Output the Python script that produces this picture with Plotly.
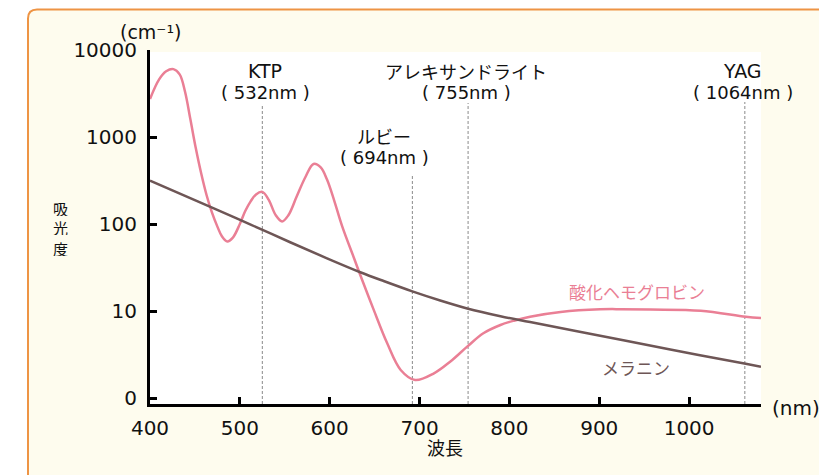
import plotly.graph_objects as go

# ---- data ----
hb_nm = [400, 410, 418, 426, 433, 439, 445, 451, 457, 463, 469, 475, 480, 486, 492, 500,
         506, 512, 518, 525, 532, 540, 547, 554, 563, 573, 582, 590, 597, 605, 614, 627,
         634, 649, 664, 679, 695, 716, 734, 753, 771, 790, 805, 823, 857, 901, 924, 957,
         1013, 1063, 1080]
hb_val = [2735, 4571, 5689, 6026, 5248, 3311, 1585, 741, 380, 214, 135, 93.3, 72.4, 63.1, 69.2, 100,
          141, 182, 219, 234, 191, 126, 107, 126, 204, 347, 490, 447, 324, 186, 93.3, 40.7,
          25.9, 10.3, 4.25, 2.10, 1.61, 1.92, 2.61, 3.89, 5.54, 6.90, 7.74, 8.60, 9.74, 10.46, 10.5, 10.4,
          10.08, 8.6, 8.3]

mel_nm = [400, 471, 512, 556, 597, 634, 660, 692, 723, 753, 790, 823, 901, 979, 1063, 1080]
mel_val = [316, 151, 98.4, 61.7, 40.3, 27.9, 22.1, 16.8, 13.2, 10.7, 8.71, 7.46, 5.20, 3.60, 2.47, 2.28]

laser_nm = [525, 692, 754, 1062]
laser_name = ["KTP", "ルビー", "アレキサンドライト", "YAG"]
laser_wl = ["( 532nm )", "( 694nm )", "( 755nm )", "( 1064nm )"]

x_ticks = [400, 500, 600, 700, 800, 900, 1000]
y_ticks = [1, 10, 100, 1000, 10000]
y_ticktext = ["0", "10", "100", "1000", "10000"]
y_title_chars = ["吸", "光", "度"]

# ---- styling ----
PINK = "#EA7F95"
BROWN = "#6E5656"
CREAM = "#FEFCEE"
ORANGE = "#EE9444"
NUMFONT = "DejaVu Sans, Noto Sans CJK JP, sans-serif"
JPFONT = "Noto Sans CJK JP, sans-serif"

# page body has an 8px margin: figure sits at screen (8, 8)
OFF = 8
SCR_W, SCR_H = 827, 475
P_LEFT, P_RIGHT, P_TOP, P_BOT = 150, 761, 50, 404   # plot box in screen pixels
W, H = SCR_W - OFF, SCR_H - OFF
L, R, T, B = P_LEFT - OFF, SCR_W - P_RIGHT, P_TOP - OFF, SCR_H - P_BOT
PW, PH = P_RIGHT - P_LEFT, P_BOT - P_TOP


def px_x(p):
    return (p - P_LEFT) / PW


def px_y(p):
    return (P_BOT - p) / PH


fig = go.Figure()
fig.add_trace(go.Scatter(x=hb_nm, y=hb_val, mode="lines",
                         line=dict(color=PINK, width=2.5, shape="spline", smoothing=1.0),
                         hoverinfo="skip", showlegend=False))
fig.add_trace(go.Scatter(x=mel_nm, y=mel_val, mode="lines",
                         line=dict(color=BROWN, width=2.5, shape="spline", smoothing=1.0),
                         hoverinfo="skip", showlegend=False))

shapes = []
# cream panel with orange border (rounded top-left corner)
x0, x1 = px_x(28), px_x(845)
y0, y1 = px_y(495), px_y(9.5)
dx, dy = 9 / PW, 9 / PH
shapes.append(dict(type="path", xref="paper", yref="paper", layer="below",
                   path=f"M {x0},{y0} L {x0},{y1-dy} Q {x0},{y1} {x0+dx},{y1} L {x1},{y1} L {x1},{y0} Z",
                   fillcolor=CREAM, line=dict(color=ORANGE, width=2)))
# white plot area
shapes.append(dict(type="rect", xref="paper", yref="paper", layer="below", x0=0, x1=1, y0=0, y1=px_y(52),
                   fillcolor="white", line=dict(width=0)))
# dashed laser lines
tops = [105, 174, 103, 102]
for nm, tp in zip(laser_nm, tops):
    shapes.append(dict(type="line", xref="x", yref="paper", x0=nm, x1=nm, y0=0, y1=px_y(tp),
                       line=dict(color="#8A8A8A", width=1, dash="3px,2px"), layer="below"))

ann = []
lab_dx = [3, -28, -2, -2]
lab_y1 = [71, 136, 71, 71]
for nm, nm_s, wl, dxp, y1p in zip(laser_nm, laser_name, laser_wl, lab_dx, lab_y1):
    f1 = JPFONT if nm_s in ("ルビー", "アレキサンドライト") else NUMFONT
    ann.append(dict(x=nm, y=px_y(y1p), xref="x", yref="paper", text=nm_s, showarrow=False, xshift=dxp,
                    font=dict(family=f1, size=19 if f1 == NUMFONT else 18, color="#111"),
                    xanchor="center", yanchor="middle"))
    ann.append(dict(x=nm, y=px_y(y1p + 21), xref="x", yref="paper", text=wl, showarrow=False, xshift=dxp,
                    font=dict(family=NUMFONT, size=18, color="#111"), xanchor="center", yanchor="middle"))

ann.append(dict(x=px_x(150), y=px_y(32), xref="paper", yref="paper", text="(cm⁻¹)", showarrow=False,
                font=dict(family=NUMFONT, size=19, color="#111"), xanchor="center", yanchor="middle"))
for i, ch in enumerate(y_title_chars):
    ann.append(dict(x=px_x(60), y=px_y(208 + 20 * i), xref="paper", yref="paper", text=ch, showarrow=False,
                    font=dict(family=JPFONT, size=15, color="#111"), xanchor="center", yanchor="middle",
                    height=15, borderpad=0, valign="middle"))
ann.append(dict(x=px_x(445), y=px_y(447), xref="paper", yref="paper", text="波長", showarrow=False,
                font=dict(family=JPFONT, size=18, color="#111"), xanchor="center", yanchor="middle"))
ann.append(dict(x=px_x(796), y=px_y(408), xref="paper", yref="paper", text="(nm)", showarrow=False,
                font=dict(family=NUMFONT, size=20, color="#111"), xanchor="center", yanchor="middle"))
ann.append(dict(x=px_x(637), y=px_y(291), xref="paper", yref="paper", text="酸化ヘモグロビン", showarrow=False,
                font=dict(family=JPFONT, size=17, color=PINK), xanchor="center", yanchor="middle"))
ann.append(dict(x=px_x(636), y=px_y(367), xref="paper", yref="paper", text="メラニン", showarrow=False,
                font=dict(family=JPFONT, size=17, color=BROWN), xanchor="center", yanchor="middle"))

fig.update_layout(
    width=W, height=H, margin=dict(l=L, r=R, t=T, b=B),
    paper_bgcolor="white", plot_bgcolor="rgba(0,0,0,0)",
    shapes=shapes, annotations=ann,
    xaxis=dict(range=[400, 1080], tickvals=x_ticks, ticktext=[str(v) for v in x_ticks],
               showgrid=False, zeroline=False, showline=True, linecolor="black", linewidth=3,
               ticks="inside", ticklen=7, tickwidth=2.5, tickcolor="black",
               tickfont=dict(family=NUMFONT, size=20, color="#111"), ticklabelstandoff=4),
    yaxis=dict(type="log", range=[-0.069, 4.0], tickvals=y_ticks, ticktext=y_ticktext,
               showgrid=False, zeroline=False, showline=True, linecolor="black", linewidth=3,
               ticks="inside", ticklen=7, tickwidth=2.5, tickcolor="black",
               tickfont=dict(family=NUMFONT, size=20, color="#111"), ticklabelstandoff=6),
)

fig.write_html("out.html")
